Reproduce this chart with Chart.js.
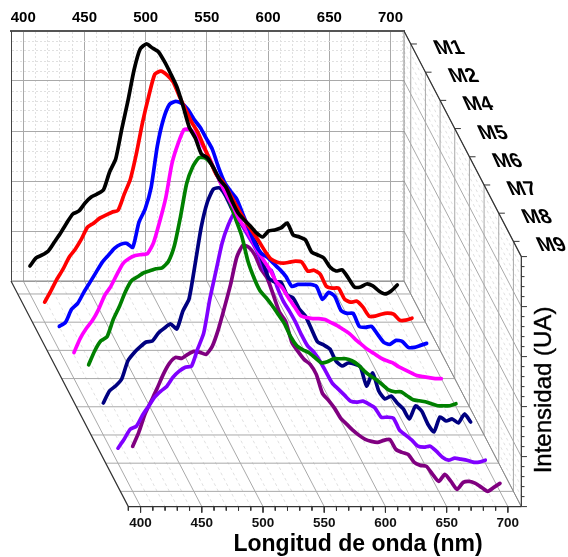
<!DOCTYPE html>
<html lang="en">
  <head>
    <meta charset="UTF-8" />
    <title>Longitud de onda</title>
    <script src="https://cdn.jsdelivr.net/npm/chart.js@4"></script>
    <style>
      body { margin: 0; background: #fff; }
    </style>
  </head>
  <body>
    <canvas id="myChart" width="568" height="557"></canvas>

    <script>
      // Values, intensity in arbitrary units (axis 0-500)
      const wavelengths = [400,405,410,415,420,425,430,435,440,445,450,455,460,465,470,475,480,485,490,495,500,505,510,515,520,525,530,535,540,545,550,555,560,565,570,575,580,585,590,595,600,605,610,615,620,625,630,635,640,645,650,655,660,665,670,675,680,685,690,695,700];
      const m1 = [56,72,78,86,104,122,142,160,166,182,194,200,208,244,270,330,386,448,490,500,492,484,464,440,414,376,334,312,280,272,252,228,214,186,162,148,136,122,114,126,128,132,142,118,114,108,84,78,72,54,46,48,32,14,14,20,16,6,0,6,18];
      const m2 = [40,62,86,106,130,146,166,190,198,208,214,220,224,256,286,338,400,452,496,502,494,480,452,426,400,380,352,324,296,282,262,240,218,198,180,162,142,126,120,118,120,122,120,102,104,96,72,68,68,46,40,42,30,12,12,16,18,16,4,4,8];
      const m4 = [48,56,82,94,116,136,156,176,190,204,212,214,206,256,282,326,408,462,492,498,494,482,462,446,424,402,366,336,318,302,272,242,212,194,186,174,162,148,128,132,132,132,128,102,116,108,80,74,74,48,46,48,32,16,12,20,18,6,6,10,14];
      const m5 = [52,80,100,116,138,166,184,208,230,240,246,248,250,272,314,362,430,470,498,498,486,466,444,416,390,366,344,318,300,280,256,236,218,194,182,162,144,126,122,120,120,118,112,106,98,90,78,68,58,50,42,36,32,24,18,12,6,4,2,0,0];
      const m6 = [84,112,132,140,174,200,230,252,260,268,272,276,278,290,322,380,446,480,498,498,486,462,438,412,376,342,292,258,232,218,202,184,166,140,122,114,108,98,88,90,96,96,96,92,84,72,62,54,44,34,30,30,22,14,12,10,6,2,2,2,6];
      const m7 = [64,88,98,112,148,164,176,186,188,204,214,222,212,248,272,342,416,466,492,494,478,452,432,416,400,382,348,314,306,306,280,274,252,238,212,186,180,172,148,138,144,142,136,98,124,88,72,78,64,52,32,58,48,22,6,36,28,32,24,42,26];
      const m8 = [30,48,68,74,96,114,132,144,154,172,184,192,194,228,260,328,384,440,476,500,482,460,440,416,384,386,352,324,304,282,256,234,222,204,182,160,148,136,124,122,124,118,110,92,92,90,66,56,46,34,32,34,24,12,6,10,8,6,2,2,6];
      const m9 = [90,118,154,180,206,234,256,268,266,274,280,278,274,290,324,368,414,468,492,488,472,444,426,392,358,340,298,280,264,254,234,196,182,166,146,134,122,112,104,100,98,102,104,84,78,74,58,52,50,34,20,34,20,4,18,20,16,8,0,8,16];

      const seriesNames = ['M1', 'M2', 'M4', 'M5', 'M6', 'M7', 'M8', 'M9'];
      const seriesValues = [m1, m2, m4, m5, m6, m7, m8, m9];
      const seriesColors = ['#000000', '#ff0000', '#0000ff', '#ff00ff', '#008000', '#000080', '#8000ff', '#800080'];
      const seriesDepths = [0.46, 1.46, 2.46, 3.46, 4.46, 5.46, 6.46, 7.46];

      const wlTicks = [400, 450, 500, 550, 600, 650, 700];
      const wlMinorTicks = [390, 410, 420, 430, 440, 460, 470, 480, 490, 510, 520, 530, 540, 560, 570, 580, 590, 610, 620, 630, 640, 660, 670, 680, 690];
      const intTicks = [0, 100, 200, 300, 400, 500];
      const intMinorTicks = [20, 40, 60, 80, 120, 140, 160, 180, 220, 240, 260, 280, 320, 340, 360, 380, 420, 440, 460, 480];

      const WL_MIN = 390;
      const WL_MAX = 711;
      const INT_MAX = 500;
      const DEPTH_MAX = 8;
      // how far one step in depth moves a point, in axis units
      const DEPTH_NM = 11.98;
      const DEPTH_INT = 56.4;

      const MAJOR = '#a9a9a9';
      const MINOR = '#e0e0e0';
      const FRAME = '#333333';

      function project(wl, depth, val) {
        return { x: wl + depth * DEPTH_NM, y: val - depth * DEPTH_INT };
      }

      // one dataset holds many separate segments, NaN breaks the line
      function segments(list, color, width, dash) {
        const data = [];
        list.forEach(seg => {
          data.push(project(...seg[0]), project(...seg[1]), { x: NaN, y: NaN });
        });
        return {
          data,
          showLine: true,
          pointRadius: 0,
          borderColor: color,
          borderWidth: width,
          borderDash: dash || [],
          clip: false,
          tension: 0
        };
      }

      const curves = seriesValues.map((vals, i) => ({
        label: seriesNames[i],
        data: vals.map((v, j) => project(wavelengths[j], seriesDepths[i], v)),
        showLine: true,
        pointRadius: 0,
        borderColor: seriesColors[i],
        borderWidth: 3.7,
        borderJoinStyle: 'round',
        borderCapStyle: 'round',
        clip: false,
        tension: 0.2
      }));

      const floorMajor = wlTicks.map(w => [[w, 0, 0], [w, DEPTH_MAX, 0]])
        .concat(seriesDepths.map(d => [[WL_MIN, d, 0], [WL_MAX, d, 0]]));
      const floorMinor = wlMinorTicks.filter(w => w !== WL_MIN).map(w => [[w, 0, 0], [w, DEPTH_MAX, 0]]);
      const wallMajor = intTicks.map(v => [[WL_MAX, 0, v], [WL_MAX, DEPTH_MAX, v]])
        .concat(seriesDepths.map(d => [[WL_MAX, d, 0], [WL_MAX, d, INT_MAX]]));
      const wallMinor = intMinorTicks.map(v => [[WL_MAX, 0, v], [WL_MAX, DEPTH_MAX, v]]);
      const frame = [
        [[WL_MIN, 0, 0], [WL_MIN, DEPTH_MAX, 0]],
        [[WL_MIN, DEPTH_MAX, 0], [WL_MAX, DEPTH_MAX, 0]],
        [[WL_MAX, 0, INT_MAX], [WL_MAX, DEPTH_MAX, INT_MAX]],
        [[WL_MAX, DEPTH_MAX, 0], [WL_MAX, DEPTH_MAX, INT_MAX]]
      ];
      const backEdges = [
        [[WL_MIN, 0, 0], [WL_MAX, 0, 0]],
        [[WL_MAX, 0, 0], [WL_MAX, 0, INT_MAX]],
        [[WL_MAX, 0, 0], [WL_MAX, DEPTH_MAX, 0]]
      ];
      // tick marks on the front edges
      const frontTicks = wlTicks.map(w => [[w, DEPTH_MAX, 0], [w, DEPTH_MAX, -12]])
        .concat(wlMinorTicks.map(w => [[w, DEPTH_MAX, 0], [w, DEPTH_MAX, -8]]))
        .concat(intTicks.map(v => [[WL_MAX, DEPTH_MAX, v], [WL_MAX + 4.6, DEPTH_MAX, v]]))
        .concat(intMinorTicks.map(v => [[WL_MAX, DEPTH_MAX, v], [WL_MAX + 2.6, DEPTH_MAX, v]]))
        .concat(seriesDepths.map(d => [[WL_MAX, d, INT_MAX], [WL_MAX + 5, d, INT_MAX]]));

      // text that has no axis of its own in Chart.js
      const labelsPlugin = {
        id: 'labels3d',
        afterDraw(chart) {
          const ctx = chart.ctx;
          const sx = chart.scales.x;
          const sy = chart.scales.y;
          ctx.save();
          ctx.fillStyle = '#111';

          // front wavelength ticks
          ctx.font = 'bold 13.5px "Liberation Sans"';
          ctx.textAlign = 'center';
          ctx.textBaseline = 'alphabetic';
          wlTicks.forEach(w => {
            const p = project(w, DEPTH_MAX, 0);
            ctx.fillText(w, sx.getPixelForValue(p.x), sy.getPixelForValue(p.y) + 20);
          });

          // sample names, sheared like the depth axis
          ctx.fillStyle = '#000';
          ctx.font = 'bold 20px "Liberation Sans"';
          ctx.textAlign = 'left';
          seriesNames.forEach((name, i) => {
            const p = project(WL_MAX, seriesDepths[i], INT_MAX);
            ctx.save();
            ctx.transform(1, 0, 0.45, 1, sx.getPixelForValue(p.x) + 27, sy.getPixelForValue(p.y) + 10);
            ctx.fillText(name, 0, 0);
            ctx.restore();
          });

          // axis titles
          ctx.textAlign = 'center';
          ctx.font = 'bold 23px "Liberation Sans"';
          ctx.fillText('Longitud de onda (nm)', 358, 551);

          ctx.save();
          ctx.translate(551, 390);
          ctx.rotate(-Math.PI / 2);
          ctx.font = '24px "Liberation Sans"';
          ctx.strokeStyle = '#000';
          ctx.lineWidth = 0.4;
          ctx.fillText('Intensidad (UA)', 0, 0);
          ctx.strokeText('Intensidad (UA)', 0, 0);
          ctx.restore();

          ctx.restore();
        }
      };

      const ctx = document.getElementById('myChart').getContext('2d');
      const myChart = new Chart(ctx, {
        type: 'scatter',
        data: {
          // the first dataset is painted last, so M1 ends up on top
          datasets: curves.concat([
            segments(frame, FRAME, 1.2),
            segments(frontTicks, FRAME, 1),
            segments(backEdges, '#8a8a8a', 1),
            segments(wallMajor, MAJOR, 1),
            segments(floorMajor, MAJOR, 1),
            segments(wallMinor, MINOR, 1, [3, 3]),
            segments(floorMinor, MINOR, 1, [3, 3])
          ])
        },
        plugins: [labelsPlugin],
        options: {
          responsive: false,
          animation: false,
          layout: { padding: { left: 0, top: 0, right: 164, bottom: 276 } },
          plugins: { legend: { display: false }, tooltip: { enabled: false } },
          scales: {
            x: {
              type: 'linear',
              position: 'top',
              bounds: 'data',
              // no min/max options: Chart.js would trim the shifted curves
              afterDataLimits(scale) {
                scale.min = WL_MIN;
                scale.max = WL_MAX;
              },
              afterBuildTicks(scale) {
                scale.ticks = scale.ticks.filter(t => t.value <= WL_MAX);
              },
              afterFit(scale) {
                scale.height = 31;
              },
              border: {
                color: '#555555',
                width: 2,
                dash: c => (c.tick && c.tick.value % 50 !== 0 ? [2, 2] : [])
              },
              grid: {
                drawTicks: false,
                color: c => (c.tick && c.tick.value % 50 === 0 ? MAJOR : MINOR)
              },
              ticks: {
                stepSize: 10,
                autoSkip: false,
                maxRotation: 0,
                minRotation: 0,
                padding: 4,
                color: '#000',
                font: { family: '"Liberation Sans"', size: 15, weight: 'bold' },
                callback: v => (v % 50 === 0 ? v : '')
              }
            },
            y: {
              min: 0,
              max: INT_MAX,
              afterFit(scale) {
                scale.width = 11;
              },
              border: {
                color: '#444444',
                width: 1,
                dash: c => (c.tick && c.tick.value % 100 !== 0 ? [2, 2] : [])
              },
              grid: {
                drawTicks: false,
                color: c => (c.tick && c.tick.value % 100 === 0 ? MAJOR : MINOR)
              },
              ticks: { display: false, stepSize: 20 }
            }
          }
        }
      });
    </script>
  </body>
</html>
